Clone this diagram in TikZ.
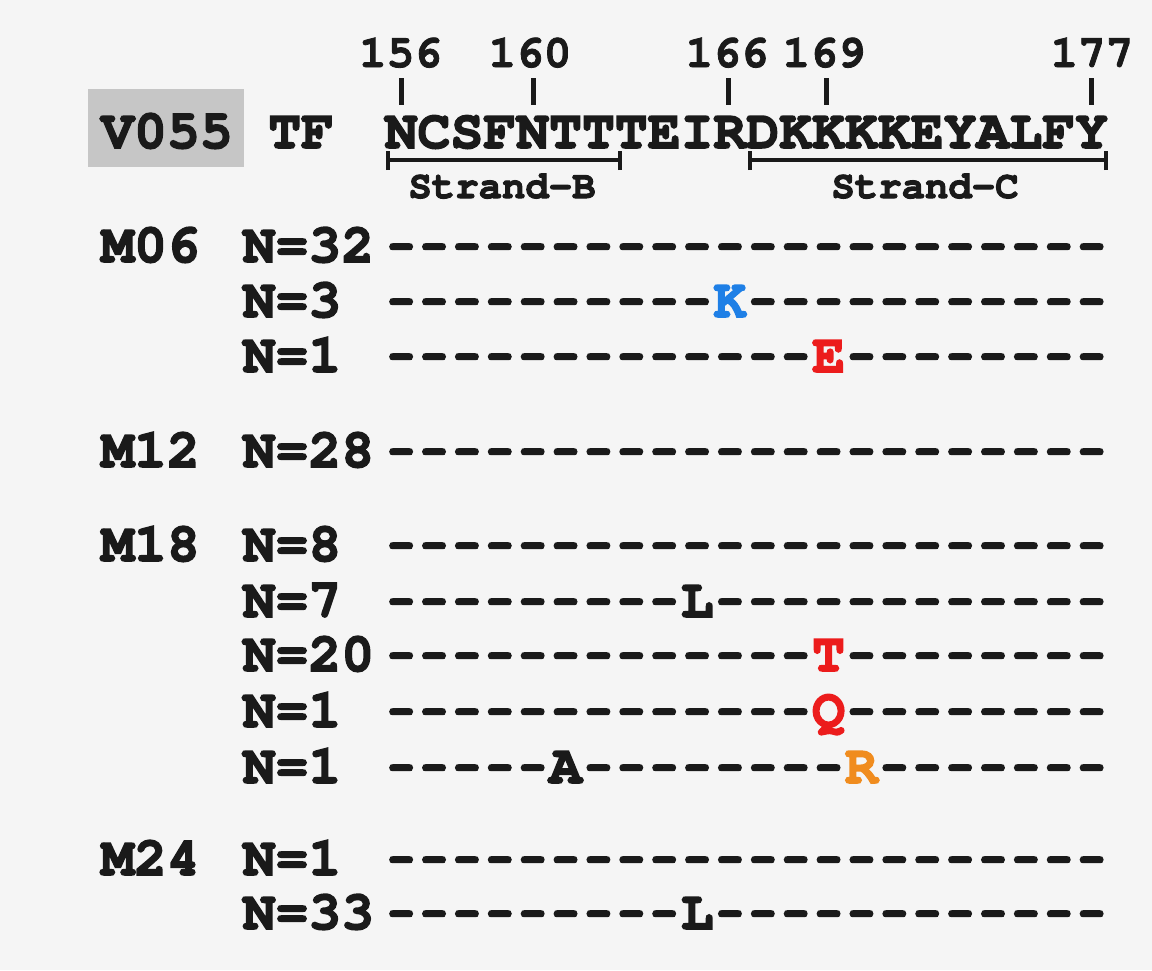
\documentclass[tikz,border=0pt]{standalone}
\usepackage[T1]{fontenc}
\usepackage{graphicx}
\definecolor{bg}{HTML}{F5F5F5}
\definecolor{ink}{HTML}{1A1A1A}
\definecolor{boxgray}{HTML}{C6C6C6}
\definecolor{kblue}{HTML}{1E7FE6}
\definecolor{mred}{HTML}{EC1C1C}
\definecolor{morange}{HTML}{F08C1E}
\newcommand\onedash{\makebox[0.6em][c]{\scalebox{0.8}[1]{-}}}
\newcommand\dsh[1]{\foreach \i in {1,...,#1}{\onedash}}
\newcommand\heavy[2][1.5]{\special{pdf:literal direct 2 Tr #1 w}#2\special{pdf:literal direct 0 Tr}}
\begin{document}
\begin{tikzpicture}[x=1pt,y=-1pt,
  big/.style={font=\fontfamily{pcr}\bfseries\fontsize{54.8}{55}\selectfont, text=ink, inner sep=0pt, anchor=base west},
  num/.style={font=\fontfamily{pcr}\bfseries\fontsize{46}{46}\selectfont, text=ink, inner sep=0pt, anchor=base},
  strandlbl/.style={font=\fontfamily{pcr}\bfseries\fontsize{39}{39}\selectfont, text=ink, inner sep=0pt, anchor=base},
  tickline/.style={line width=5pt, draw=ink},
  brk/.style={line width=4pt, draw=ink}]
\useasboundingbox (0,0) rectangle (1152,970);
\fill[bg] (0,0) rectangle (1152,970);
% header
\fill[boxgray] (88,89) rectangle (244,167);
\node[big] (v055) at (101,148) {\heavy{V055}};
\node[big] (tf) at (268,148) {\heavy{TF}};
\node[big] (seq) at (384.5,148) {\heavy{NCSFNTTTEIRDKKKKEYALFY}};
% position numbers and ticks
\node[num] (p156) at (400.5,67) {\heavy[0.8]{156}};
\node[num] (p160) at (530,67) {\heavy[0.8]{160}};
\node[num] (p166) at (727,67) {\heavy[0.8]{166}};
\node[num] (p169) at (824,67) {\heavy[0.8]{169}};
\node[num] (p177) at (1092,67) {\heavy[0.8]{177}};
\coordinate (t156a) at (401,78); \coordinate (t156b) at (401,105);
\coordinate (t160a) at (533,78); \coordinate (t160b) at (533,105);
\coordinate (t166a) at (728.5,78); \coordinate (t166b) at (728.5,105);
\coordinate (t169a) at (826,78); \coordinate (t169b) at (826,105);
\coordinate (t177a) at (1091,78); \coordinate (t177b) at (1091,105);
\draw[tickline] (t156a) -- (t156b);
\draw[tickline] (t160a) -- (t160b);
\draw[tickline] (t166a) -- (t166b);
\draw[tickline] (t169a) -- (t169b);
\draw[tickline] (t177a) -- (t177b);
% strand brackets
\coordinate (bl) at (388,160); \coordinate (br) at (620,160);
\coordinate (cl) at (750,160); \coordinate (cr) at (1106,160);
\draw[brk] ([yshift=-10pt]bl) -- ([yshift=9pt]bl);
\draw[brk] ([yshift=-10pt]br) -- ([yshift=9pt]br);
\draw[brk] (bl) -- (br);
\draw[brk] ([yshift=-10pt]cl) -- ([yshift=9pt]cl);
\draw[brk] ([yshift=-10pt]cr) -- ([yshift=9pt]cr);
\draw[brk] (cl) -- (cr);
\node[strandlbl] (sb) at (502,198) {\heavy[1]{Strand-B}};
\node[strandlbl] (sc) at (925,198) {\heavy[1]{Strand-C}};
% M06
\node[big] (m06) at (101,262) {\heavy{M06}};
\node[big] (n1) at (242.5,262) {\heavy{N=32}};
\node[big] (r1) at (384.5,262) {\heavy{\dsh{22}}};
\node[big] (n2) at (242.5,317) {\heavy{N=3}};
\node[big] (r2) at (384.5,317) {\heavy{\dsh{10}\textcolor{kblue}{K}\dsh{11}}};
\node[big] (n3) at (242.5,372) {\heavy{N=1}};
\node[big] (r3) at (384.5,372) {\heavy{\dsh{13}\textcolor{mred}{E}\dsh{8}}};
% M12
\node[big] (m12) at (101,467) {\heavy{M12}};
\node[big] (n4) at (242.5,467) {\heavy{N=28}};
\node[big] (r4) at (384.5,467) {\heavy{\dsh{22}}};
% M18
\node[big] (m18) at (101,561) {\heavy{M18}};
\node[big] (n5) at (242.5,561) {\heavy{N=8}};
\node[big] (r5) at (384.5,561) {\heavy{\dsh{22}}};
\node[big] (n6) at (242.5,617) {\heavy{N=7}};
\node[big] (r6) at (384.5,617) {\heavy{\dsh{9}L\dsh{12}}};
\node[big] (n7) at (242.5,671) {\heavy{N=20}};
\node[big] (r7) at (384.5,671) {\heavy{\dsh{13}\textcolor{mred}{T}\dsh{8}}};
\node[big] (n8) at (242.5,727) {\heavy{N=1}};
\node[big] (r8) at (384.5,727) {\heavy{\dsh{13}\textcolor{mred}{Q}\dsh{8}}};
\node[big] (n9) at (242.5,783) {\heavy{N=1}};
\node[big] (r9) at (384.5,783) {\heavy{\dsh{5}A\dsh{8}\textcolor{morange}{R}\dsh{7}}};
% M24
\node[big] (m24) at (101,875) {\heavy{M24}};
\node[big] (n10) at (242.5,875) {\heavy{N=1}};
\node[big] (r10) at (384.5,875) {\heavy{\dsh{22}}};
\node[big] (n11) at (242.5,929) {\heavy{N=33}};
\node[big] (r11) at (384.5,929) {\heavy{\dsh{9}L\dsh{12}}};
\end{tikzpicture}
\end{document}
